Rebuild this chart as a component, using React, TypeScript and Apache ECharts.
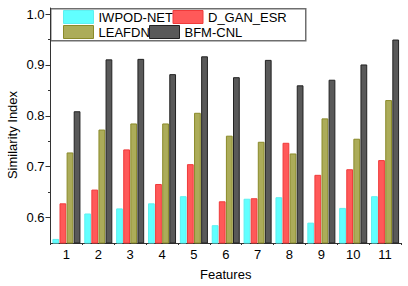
import React, { useEffect, useRef } from "react";
import * as echarts from "echarts";

const categories = ["1", "2", "3", "4", "5", "6", "7", "8", "9", "10", "11"];
const seriesNames = ["IWPOD-NET", "D_GAN_ESR", "LEAFDN", "BFM-CNL"];
const iwpodNet = [0.558, 0.608, 0.618, 0.628, 0.642, 0.585, 0.637, 0.64, 0.59, 0.619, 0.642];
const dGanEsr = [0.628, 0.655, 0.734, 0.666, 0.705, 0.632, 0.638, 0.747, 0.684, 0.695, 0.713];
const leafdn = [0.728, 0.773, 0.785, 0.785, 0.806, 0.761, 0.749, 0.726, 0.795, 0.755, 0.831];
const bfmCnl = [0.809, 0.911, 0.912, 0.882, 0.917, 0.876, 0.91, 0.86, 0.871, 0.901, 0.95];
const majorYTicks = [0.6, 0.7, 0.8, 0.9, 1.0];
const minorYTicks = [0.65, 0.75, 0.85, 0.95];

const FONT = '"Liberation Sans", Arial, sans-serif';
const fills = ["rgba(0,255,255,0.62)", "rgba(255,0,0,0.65)", "rgba(128,128,0,0.65)", "rgba(0,0,0,0.65)"];
const borders = ["#5ef0f0", "#f03a3a", "#8a8a2a", "#222222"];

export default function App() {
  const ref = useRef<HTMLDivElement>(null);
  useEffect(() => {
    if (!ref.current) return;
    const chart = echarts.init(ref.current, null, { renderer: "svg" });
    const data = [iwpodNet, dGanEsr, leafdn, bfmCnl];
    const legendPos = [
      { left: 63, top: 10 },
      { left: 172.5, top: 10 },
      { left: 63, top: 25 },
      { left: 149, top: 25 },
    ];
    chart.setOption({
      animation: false,
      textStyle: { fontFamily: FONT },
      grid: { left: 50.5, right: 7, top: 8, bottom: 43 },
      legend: seriesNames.map((n, i) => ({
        data: [n],
        left: legendPos[i].left,
        top: legendPos[i].top,
        padding: 0,
        itemWidth: 30,
        itemHeight: 13,
        icon: "rect",
        selectedMode: false,
        z: 6,
        textStyle: { fontFamily: FONT, fontSize: 13, color: "#000" },
        itemStyle: { color: fills[i], borderColor: borders[i], borderWidth: 1 },
      })),
      graphic: [
        {
          type: "rect",
          left: 50,
          top: 8,
          z: 3,
          silent: true,
          shape: { width: 255, height: 32 },
          style: { fill: "#ffffff", stroke: "#6e6e6e", lineWidth: 1.5 },
        },
        {
          type: "text",
          x: 12.5,
          y: 135,
          rotation: Math.PI / 2,
          style: {
            text: "Similarity Index",
            fontFamily: FONT,
            fontSize: 13,
            fill: "#000",
            align: "center",
            verticalAlign: "middle",
          },
        },
      ],
      xAxis: [
        {
          type: "category",
          data: categories,
          name: "Features",
          nameLocation: "middle",
          nameGap: 25,
          nameTextStyle: { fontFamily: FONT, fontSize: 13, color: "#000" },
          axisLine: { lineStyle: { color: "#333", width: 1 } },
          axisTick: { alignWithLabel: true, length: 4, lineStyle: { color: "#333" } },
          axisLabel: { fontFamily: FONT, fontSize: 13, color: "#000", margin: 5 },
          splitLine: { show: false },
        },
        {
          type: "category",
          data: categories,
          position: "bottom",
          axisLine: { show: false },
          axisTick: { show: true, length: 2, lineStyle: { color: "#333" } },
          axisLabel: { show: false },
          splitLine: { show: false },
        },
      ],
      yAxis: [
        {
          type: "value",
          min: 0.55,
          max: 1.012,
          z: 7,
          axisLine: { show: true, lineStyle: { color: "#333", width: 1 } },
          axisTick: { show: true, length: 5, customValues: majorYTicks, lineStyle: { color: "#333" } },
          axisLabel: {
            customValues: majorYTicks,
            fontFamily: FONT,
            fontSize: 13,
            color: "#000",
            margin: 6,
            formatter: (v: number) => v.toFixed(1),
          },
          splitLine: { show: false },
        },
        {
          type: "value",
          min: 0.55,
          max: 1.012,
          position: "left",
          axisLine: { show: false },
          axisTick: { show: true, length: 2.5, customValues: minorYTicks, lineStyle: { color: "#333" } },
          axisLabel: { show: false },
          splitLine: { show: false },
        },
      ],
      series: seriesNames.map((n, i) => ({
        name: n,
        type: "bar",
        xAxisIndex: 0,
        yAxisIndex: 0,
        data: data[i],
        barGap: "5%",
        barCategoryGap: "12%",
        itemStyle: { color: fills[i], borderColor: borders[i], borderWidth: 1 },
      })),
    });
    return () => chart.dispose();
  }, []);
  return (
    <div
      ref={ref}
      style={{ position: "fixed", left: 0, top: 0, width: 408, height: 286, background: "#fff" }}
    />
  );
}
